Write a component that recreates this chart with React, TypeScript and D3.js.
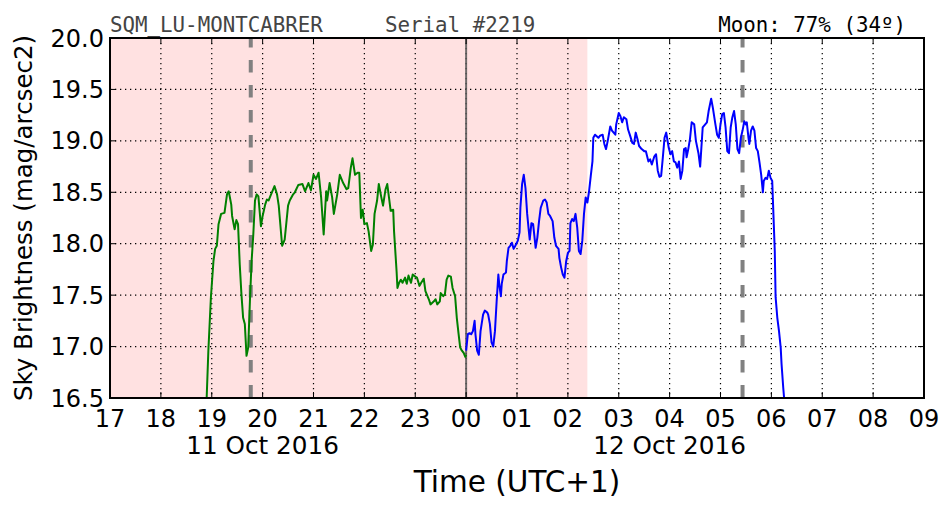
import React from "react";
import * as d3 from "d3";

// ---- data (minutes after 17:00 local on 11 Oct 2016, sky brightness mag/arcsec2)
const START = new Date(2016, 9, 11, 17, 0);
const END = new Date(2016, 9, 12, 9, 0);

const greenMin = [108, 114, 116, 119, 122, 124, 126, 128, 131, 135, 138, 140, 143, 144, 147, 149, 151, 153, 155, 157, 159, 161, 163, 165, 167, 169, 171, 173, 175, 178, 180, 183, 185, 187, 189, 194, 197, 199, 203, 206, 210, 212, 216, 218, 222, 227, 230, 234, 237, 240, 243, 246, 249, 252, 255, 256, 259, 262, 264, 268, 271, 275, 279, 281, 284, 286, 289, 292, 294, 296, 298, 300, 303, 305, 308, 310, 312, 315, 317, 320, 322, 325, 327, 329, 331, 334, 335, 338, 339, 341, 343, 345, 348, 350, 352, 355, 357, 360, 362, 365, 367, 370, 372, 376, 378, 382, 384, 386, 389, 390, 393, 395, 397, 399, 402, 404, 407, 409, 411, 413, 415, 417, 419, 420];
const greenMag = [16.2, 16.50, 16.96, 17.48, 17.83, 17.95, 17.98, 18.19, 18.29, 18.30, 18.48, 18.51, 18.38, 18.27, 18.14, 18.23, 18.19, 17.80, 17.51, 17.28, 17.22, 16.91, 16.99, 17.44, 17.83, 18.09, 18.42, 18.48, 18.46, 18.17, 18.27, 18.38, 18.43, 18.42, 18.46, 18.56, 18.48, 18.37, 17.98, 18.04, 18.37, 18.42, 18.48, 18.50, 18.57, 18.58, 18.51, 18.59, 18.52, 18.67, 18.63, 18.69, 18.45, 18.09, 18.51, 18.42, 18.59, 18.45, 18.29, 18.48, 18.67, 18.59, 18.53, 18.54, 18.74, 18.83, 18.67, 18.69, 18.69, 18.25, 18.33, 18.19, 18.20, 18.12, 17.93, 17.99, 18.29, 18.42, 18.58, 18.45, 18.37, 18.53, 18.58, 18.45, 18.32, 18.33, 18.12, 17.73, 17.57, 17.62, 17.65, 17.62, 17.67, 17.61, 17.69, 17.62, 17.70, 17.68, 17.67, 17.59, 17.62, 17.66, 17.54, 17.46, 17.41, 17.44, 17.46, 17.41, 17.44, 17.52, 17.49, 17.51, 17.65, 17.69, 17.68, 17.57, 17.49, 17.28, 17.13, 16.99, 16.96, 16.94, 16.90, 16.92];

const blueMin = [420, 422, 424, 426, 428, 430, 431, 433, 435, 437, 440, 442, 445, 446, 448, 450, 452, 454, 456, 458, 459, 461, 462, 464, 467, 468, 470, 472, 474, 476, 478, 481, 483, 484, 486, 488, 490, 492, 494, 495, 497, 499, 502, 504, 506, 508, 511, 513, 515, 517, 519, 522, 524, 526, 529, 530, 532, 534, 536, 538, 540, 542, 543, 545, 547, 549, 551, 553, 555, 557, 559, 561, 563, 565, 567, 569, 570, 572, 576, 578, 581, 583, 585, 587, 590, 592, 594, 596, 597, 600, 602, 604, 606, 609, 611, 613, 616, 618, 620, 622, 624, 627, 630, 632, 635, 637, 639, 642, 644, 646, 648, 650, 652, 654, 656, 659, 661, 663, 665, 667, 669, 671, 673, 675, 677, 679, 680, 682, 684, 686, 689, 691, 694, 696, 699, 702, 704, 706, 709, 711, 714, 716, 718, 720, 722, 724, 726, 728, 730, 732, 734, 736, 738, 740, 742, 744, 746, 748, 750, 751, 753, 754, 756, 758, 760, 762, 764, 766, 768, 770, 771, 773, 775, 777, 779, 781, 782, 784, 785, 787, 789, 791, 792, 794, 795, 797];
const blueMag = [16.96, 17.12, 17.13, 17.12, 17.15, 17.25, 17.12, 16.96, 16.92, 17.15, 17.31, 17.35, 17.33, 17.31, 17.22, 17.04, 17.00, 17.15, 17.44, 17.70, 17.61, 17.49, 17.61, 17.70, 17.72, 17.83, 17.96, 17.98, 18.01, 17.95, 17.98, 18.03, 18.11, 18.35, 18.58, 18.67, 18.54, 18.29, 18.12, 18.04, 18.20, 18.19, 17.96, 18.06, 18.22, 18.35, 18.42, 18.43, 18.40, 18.29, 18.27, 18.22, 18.06, 17.98, 17.95, 17.86, 17.77, 17.70, 17.67, 17.83, 17.91, 17.93, 18.20, 18.24, 18.22, 18.29, 18.16, 17.93, 17.90, 18.03, 18.29, 18.45, 18.40, 18.51, 18.66, 18.80, 19.03, 19.06, 19.03, 19.05, 19.06, 18.97, 18.92, 19.00, 19.14, 19.10, 19.08, 19.06, 19.16, 19.27, 19.24, 19.18, 19.23, 19.21, 19.11, 19.06, 18.98, 18.97, 19.08, 19.02, 18.95, 18.92, 18.90, 18.90, 18.80, 18.82, 18.77, 18.85, 18.87, 18.71, 18.65, 18.66, 18.84, 19.03, 19.08, 18.93, 18.87, 18.90, 18.80, 18.79, 18.74, 18.80, 18.63, 18.71, 18.92, 18.93, 18.84, 18.92, 19.02, 19.18, 19.16, 19.00, 18.88, 18.75, 19.13, 19.16, 19.18, 19.29, 19.41, 19.32, 19.16, 19.06, 19.03, 19.16, 19.26, 19.27, 19.13, 18.90, 18.88, 19.13, 19.23, 19.29, 19.16, 18.92, 18.88, 19.03, 19.10, 19.19, 19.16, 19.18, 19.03, 18.97, 19.10, 19.14, 19.10, 18.93, 18.90, 18.79, 18.67, 18.50, 18.61, 18.64, 18.63, 18.71, 18.64, 18.61, 18.38, 17.93, 17.48, 17.28, 17.15, 16.99, 16.83, 16.60, 16.50, 16.30];

const twilightEndMin = 563; // pink shaded span 17:00 -> 02:23
const moonEventMin = [166, 746]; // dashed markers 19:46 and 05:26
const midnightMin = 420;

const yTicks = [16.5, 17.0, 17.5, 18.0, 18.5, 19.0, 19.5, 20.0];
const dateLabels = [
  { min: 180, text: "11 Oct 2016" },
  { min: 660, text: "12 Oct 2016" },
];
const titleLeft = "SQM_LU-MONTCABRER";
const titleMid = "Serial #2219";
const titleRight = "Moon: 77% (34º)";
const xLabel = "Time (UTC+1)";
const yLabel = "Sky Brightness (mag/arcsec2)";

const W = 952;
const H = 512;
const M = { left: 110, right: 924, top: 38, bottom: 398 };
const FONT = "DejaVu Sans, sans-serif";
const MONO = "DejaVu Sans Mono, monospace";

const toDate = (m: number) => new Date(START.getTime() + m * 60000);

export default function App() {
  const x = d3.scaleTime().domain([START, END]).range([M.left, M.right]);
  const y = d3.scaleLinear().domain([16.5, 20]).range([M.bottom, M.top]);
  const xTicks = x.ticks(d3.timeHour.every(1) as any);
  const fmt = d3.timeFormat("%H");

  const line = d3
    .line<[number, number]>()
    .x((d) => x(toDate(d[0])))
    .y((d) => y(d[1]));
  const green = line(greenMin.map((m, i) => [m, greenMag[i]]) as [number, number][]) || "";
  const blue = line(blueMin.map((m, i) => [m, blueMag[i]]) as [number, number][]) || "";

  const pw = M.right - M.left;
  const ph = M.bottom - M.top;

  return (
    <svg
      width={W}
      height={H}
      style={{ position: "absolute", left: 0, top: 0, background: "#fff" }}
    >
      <defs>
        <clipPath id="plot">
          <rect x={M.left} y={M.top} width={pw} height={ph} />
        </clipPath>
      </defs>
      <rect x={0} y={0} width={W} height={H} fill="#fff" />
      {/* night/twilight shading */}
      <rect
        x={x(START)}
        y={M.top}
        width={x(toDate(twilightEndMin)) - x(START)}
        height={ph}
        fill="#ffe1e1"
      />
      {/* grid */}
      {xTicks.map((t, i) => (
        <line
          key={"gx" + i}
          x1={x(t)}
          x2={x(t)}
          y1={M.top}
          y2={M.bottom}
          stroke="#000"
          strokeWidth={1.2}
          strokeDasharray="1.3,3.7"
        />
      ))}
      {yTicks.map((v, i) => (
        <line
          key={"gy" + i}
          x1={M.left}
          x2={M.right}
          y1={y(v)}
          y2={y(v)}
          stroke="#000"
          strokeWidth={1.2}
          strokeDasharray="1.3,3.7"
        />
      ))}
      {/* midnight */}
      <line
        x1={x(toDate(midnightMin))}
        x2={x(toDate(midnightMin))}
        y1={M.top}
        y2={M.bottom}
        stroke="#555"
        strokeOpacity={0.85}
        strokeWidth={2}
      />
      {/* moon markers */}
      {moonEventMin.map((m, i) => (
        <line
          key={"mm" + i}
          x1={x(toDate(m))}
          x2={x(toDate(m))}
          y1={M.top}
          y2={M.bottom}
          stroke="#7a7a7a"
          strokeOpacity={0.95}
          strokeWidth={4}
          strokeDasharray="12.5,12.5"
          strokeDashoffset={3}
        />
      ))}
      <g clipPath="url(#plot)">
        <path d={green} fill="none" stroke="#008000" strokeWidth={2} strokeLinejoin="round" />
        <path d={blue} fill="none" stroke="#0000ff" strokeWidth={2} strokeLinejoin="round" />
      </g>
      {/* ticks */}
      {xTicks.map((t, i) => (
        <g key={"tx" + i}>
          <line x1={x(t)} x2={x(t)} y1={M.bottom} y2={M.bottom - 6} stroke="#000" strokeWidth={1} />
          <line x1={x(t)} x2={x(t)} y1={M.top} y2={M.top + 6} stroke="#000" strokeWidth={1} />
          <text
            x={x(t)}
            y={M.bottom + 29}
            textAnchor="middle"
            fontFamily={FONT}
            fontSize={24}
            fill="#000"
          >
            {fmt(t)}
          </text>
        </g>
      ))}
      {yTicks.map((v, i) => (
        <g key={"ty" + i}>
          <line x1={M.left} x2={M.left + 6} y1={y(v)} y2={y(v)} stroke="#000" strokeWidth={1} />
          <line x1={M.right} x2={M.right - 6} y1={y(v)} y2={y(v)} stroke="#000" strokeWidth={1} />
          <text
            x={M.left - 6}
            y={y(v) + 8.5}
            textAnchor="end"
            fontFamily={FONT}
            fontSize={24}
            fill="#000"
          >
            {v.toFixed(1)}
          </text>
        </g>
      ))}
      {/* frame */}
      <rect
        x={M.left}
        y={M.top}
        width={pw}
        height={ph}
        fill="none"
        stroke="#000"
        strokeWidth={2}
      />
      {dateLabels.map((d, i) => (
        <text
          key={"dl" + i}
          x={x(toDate(d.min))}
          y={M.bottom + 56}
          textAnchor="middle"
          fontFamily={FONT}
          fontSize={24.7}
          fill="#000"
        >
          {d.text}
        </text>
      ))}
      <text
        x={(M.left + M.right) / 2}
        y={492}
        textAnchor="middle"
        fontFamily={FONT}
        fontSize={29.5}
        fill="#000"
      >
        {xLabel}
      </text>
      <text
        transform={`translate(32,${(M.top + M.bottom) / 2}) rotate(-90)`}
        textAnchor="middle"
        fontFamily={FONT}
        fontSize={24.5}
        fill="#000"
      >
        {yLabel}
      </text>
      <text x={M.left} y={32} fontFamily={MONO} fontSize={20.8} fill="#444">
        {titleLeft}
      </text>
      <text x={385} y={32} fontFamily={MONO} fontSize={20.8} fill="#444">
        {titleMid}
      </text>
      <text x={906} y={32} textAnchor="end" fontFamily={MONO} fontSize={20.8} fill="#000">
        {titleRight}
      </text>
    </svg>
  );
}
